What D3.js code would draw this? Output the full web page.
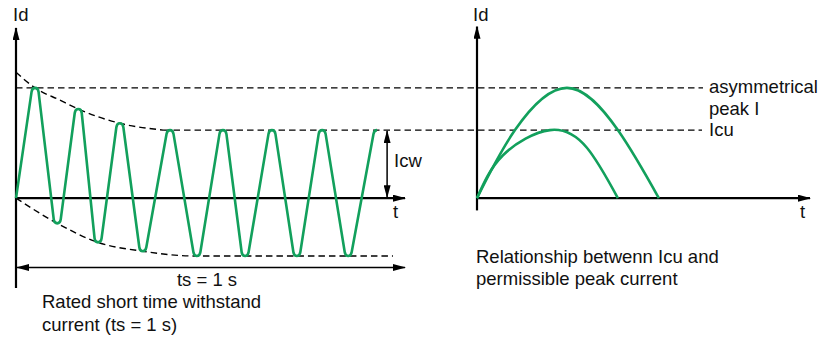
<!DOCTYPE html>
<html>
<head>
<meta charset="utf-8">
<script src="https://cdn.jsdelivr.net/npm/d3@7"></script>
<style>
  body { margin: 0; background: #fff; }
  text { font-family: "Liberation Sans", Arial, sans-serif; font-size: 18.5px; fill: #111; }
</style>
</head>
<body>
<script>
// t in s, current in units of Icw (= Icu)
const waveform = [
  [0, 0], [0.049, 1.62], [0.106, -0.37], [0.160, 1.31], [0.211, -0.65],
  [0.267, 1.10], [0.326, -0.78], [0.396, 1.0], [0.465, -0.85], [0.532, 1.0],
  [0.589, -0.85], [0.658, 1.0], [0.722, -0.85], [0.787, 1.0], [0.854, -0.85], [0.928, 1.0]
];
const upperEnvelope = [[0, 1.85], [0.049, 1.62], [0.113, 1.44], [0.160, 1.31], [0.267, 1.10], [0.378, 1.0]];
const lowerEnvelope = [[0, 0], [0.106, -0.37], [0.211, -0.65], [0.326, -0.78], [0.46, -0.85], [0.969, -0.85]];

// right chart, t in arbitrary units (0..100 along the axis)
const arcPeak = [[0, 0], [11.4, 1.0], [27.0, 1.62], [42.3, 1.0], [54.6, 0]];
const arcIcu = [[0, 0], [7.8, 0.63], [21.9, 1.0], [33.0, 0.74], [42.3, 0]];

const levels = { peak: 1.62, icu: 1.0 };
const levelLabels = ["asymmetrical", "peak I", "Icu"];
const captionLeft = ["Rated short time withstand", "current (ts = 1 s)"];
const captionRight = ["Relationship betwenn Icu and", "permissible peak current"];

const green = "#12a05c";

const svg = d3.select("body").append("svg")
    .attr("width", 832)
    .attr("height", 338);

svg.append("defs").append("marker")
    .attr("id", "arrow")
    .attr("viewBox", "0 0 13 7")
    .attr("markerWidth", 13)
    .attr("markerHeight", 7)
    .attr("refX", 12)
    .attr("refY", 3.5)
    .attr("orient", "auto-start-reverse")
    .attr("markerUnits", "userSpaceOnUse")
  .append("path")
    .attr("d", "M0,0L13,3.5L0,7Z")
    .attr("fill", "#000");

const y = d3.scaleLinear().domain([-1.32, 2.5]).range([288, 28]);
const xL = d3.scaleLinear().domain([0, 1]).range([16, 405]);
const xR = d3.scaleLinear().domain([0, 100]).range([477, 810]);

const lineL = d3.line().x(d => xL(d[0])).y(d => y(d[1])).curve(d3.curveMonotoneX);
const lineR = d3.line().x(d => xR(d[0])).y(d => y(d[1])).curve(d3.curveNatural);

const dash = "6.5 4";

// dashed reference levels running across both charts
svg.append("line")
    .attr("x1", xL(0)).attr("x2", 703)
    .attr("y1", y(levels.peak)).attr("y2", y(levels.peak))
    .attr("stroke", "#000").attr("stroke-width", 1.4).attr("stroke-dasharray", dash);

svg.append("line")
    .attr("x1", xL(upperEnvelope[upperEnvelope.length - 1][0])).attr("x2", 702)
    .attr("y1", y(levels.icu)).attr("y2", y(levels.icu))
    .attr("stroke", "#000").attr("stroke-width", 1.4).attr("stroke-dasharray", dash);

svg.selectAll(".envelope")
    .data([upperEnvelope, lowerEnvelope])
    .join("path")
      .attr("class", "envelope")
      .attr("d", lineL)
      .attr("fill", "none")
      .attr("stroke", "#000")
      .attr("stroke-width", 1.4)
      .attr("stroke-dasharray", dash);

// left axes
svg.append("line")
    .attr("x1", xL(0)).attr("x2", xL(0))
    .attr("y1", y(-1.32)).attr("y2", y(2.5))
    .attr("stroke", "#000").attr("stroke-width", 2.2)
    .attr("marker-end", "url(#arrow)");

svg.append("line")
    .attr("x1", xL(0)).attr("x2", xL(1))
    .attr("y1", y(0)).attr("y2", y(0))
    .attr("stroke", "#000").attr("stroke-width", 2.2)
    .attr("marker-end", "url(#arrow)");

// ts = 1 s span
svg.append("line")
    .attr("x1", xL(0) + 1).attr("x2", xL(1))
    .attr("y1", 267.5).attr("y2", 267.5)
    .attr("stroke", "#000").attr("stroke-width", 1.5)
    .attr("marker-start", "url(#arrow)")
    .attr("marker-end", "url(#arrow)");

// Icw span
svg.append("line")
    .attr("x1", xL(0.954)).attr("x2", xL(0.954))
    .attr("y1", y(levels.icu) + 1).attr("y2", y(0) - 1)
    .attr("stroke", "#000").attr("stroke-width", 1.5)
    .attr("marker-start", "url(#arrow)")
    .attr("marker-end", "url(#arrow)");

// waveform: straight flanks between the extremes, small rounded caps at each extreme
const pts = waveform.map(d => [xL(d[0]), y(d[1])]);
const capW = 3.5, capH = 4;
const wave = d3.path();
wave.moveTo(pts[0][0], pts[0][1]);
let prev = pts[0];
for (let i = 1; i < pts.length; i++) {
    const [ax, ay] = pts[i];
    const s = ay < pts[i - 1][1] ? 1 : -1;   // 1 = peak, -1 = trough
    const sx = ax - capW, sy = ay + s * capH;
    const c1 = sx + (sx - prev[0]) * ((ay - sy) / (sy - prev[1]));
    wave.lineTo(sx, sy);
    wave.quadraticCurveTo(c1, ay, ax, ay);
    if (i < pts.length - 1) {
        const next = pts[i + 1];
        const rx = ax + capW, ry = ay + s * capH;
        const nx = next[0] - capW, ny = next[1] - s * capH;
        const c2 = rx - (nx - rx) * ((ry - ay) / (ny - ry));
        wave.quadraticCurveTo(c2, ay, rx, ry);
        prev = [rx, ry];
    }
}

svg.append("path")
    .attr("d", wave.toString())
    .attr("fill", "none")
    .attr("stroke", green)
    .attr("stroke-width", 2.6)
    .attr("stroke-linejoin", "round");

// right axes
svg.append("line")
    .attr("x1", xR(0)).attr("x2", xR(0))
    .attr("y1", y(-0.18)).attr("y2", y(2.52))
    .attr("stroke", "#000").attr("stroke-width", 2.2)
    .attr("marker-end", "url(#arrow)");

svg.append("line")
    .attr("x1", xR(0)).attr("x2", xR(100))
    .attr("y1", y(0)).attr("y2", y(0))
    .attr("stroke", "#000").attr("stroke-width", 2.2)
    .attr("marker-end", "url(#arrow)");

svg.selectAll(".arc")
    .data([arcPeak, arcIcu])
    .join("path")
      .attr("class", "arc")
      .attr("d", lineR)
      .attr("fill", "none")
      .attr("stroke", green)
      .attr("stroke-width", 2.6);

// labels
const label = (x, yy, txt, anchor) => svg.append("text")
    .attr("x", x).attr("y", yy)
    .attr("text-anchor", anchor || "start")
    .text(txt);

label(13, 21, "Id");
label(393, 218, "t");
label(394, 167, "Icw");
label(207, 286, "ts = 1 s", "middle");
captionLeft.forEach((c, i) => label(42, 308 + i * 23, c));

label(473, 21, "Id");
label(800, 218, "t");
levelLabels.forEach((c, i) => label(709, 93 + i * 21.5, c));
captionRight.forEach((c, i) => label(476, 263 + i * 21.5, c));
</script>
</body>
</html>
